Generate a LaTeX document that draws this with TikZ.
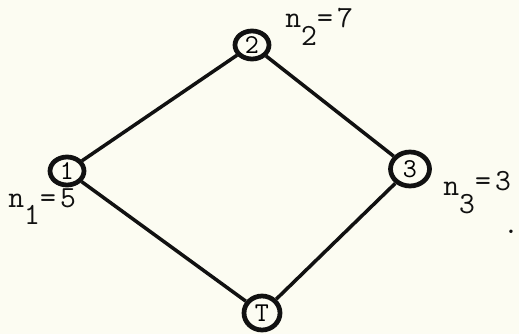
\documentclass[tikz,border=0pt]{standalone}
\usepackage{fontspec}
\setmonofont{Latin Modern Mono}[LetterSpace=14]
\usetikzlibrary{shapes.geometric}
\definecolor{paper}{HTML}{FCFCF2}
\definecolor{ink}{HTML}{111111}
\newcommand{\sub}[1]{\raisebox{-0.36cm}{#1}}
\begin{document}
\begin{tikzpicture}[x=0.02cm,y=-0.02cm,
    vertex/.style={ellipse,draw=ink,line width=2.7pt,inner sep=0pt,minimum width=0.68cm,minimum height=0.56cm,font=\ttfamily\fontsize{15.5}{16}\selectfont},
    edge/.style={ink,line width=2pt},
    count/.style={anchor=base west,inner sep=0pt,text=ink,font=\ttfamily\fontsize{17.5}{20}\selectfont}]
  \fill[paper] (0,0) rectangle (519,334);
  \useasboundingbox (0,0) rectangle (519,334);
  % nodes
  \node[vertex] (v1) at (67,171) {1};
  \node[vertex] (v2) at (252,45) {2};
  \node[vertex,minimum width=0.78cm,minimum height=0.68cm] (v3) at (410,169) {3};
  \node[vertex,minimum width=0.72cm,minimum height=0.68cm] (vT) at (262,313) {T};
  % edges
  \draw[edge] (v1) -- (v2);
  \draw[edge] (v2) -- (v3);
  \draw[edge] (v1) -- (vT);
  \draw[edge] (v3) -- (vT);
  % labels
  \node[count] (c1) at (8,207) {n\sub{1}=5};
  \node[count] (c2) at (285,28) {n\sub{2}=7};
  \node[count] (c3) at (443,195) {n\sub{3}\raisebox{0.09cm}{=3}};
  \node[count,anchor=base] (dot) at (511,233) {.};
\end{tikzpicture}
\end{document}
